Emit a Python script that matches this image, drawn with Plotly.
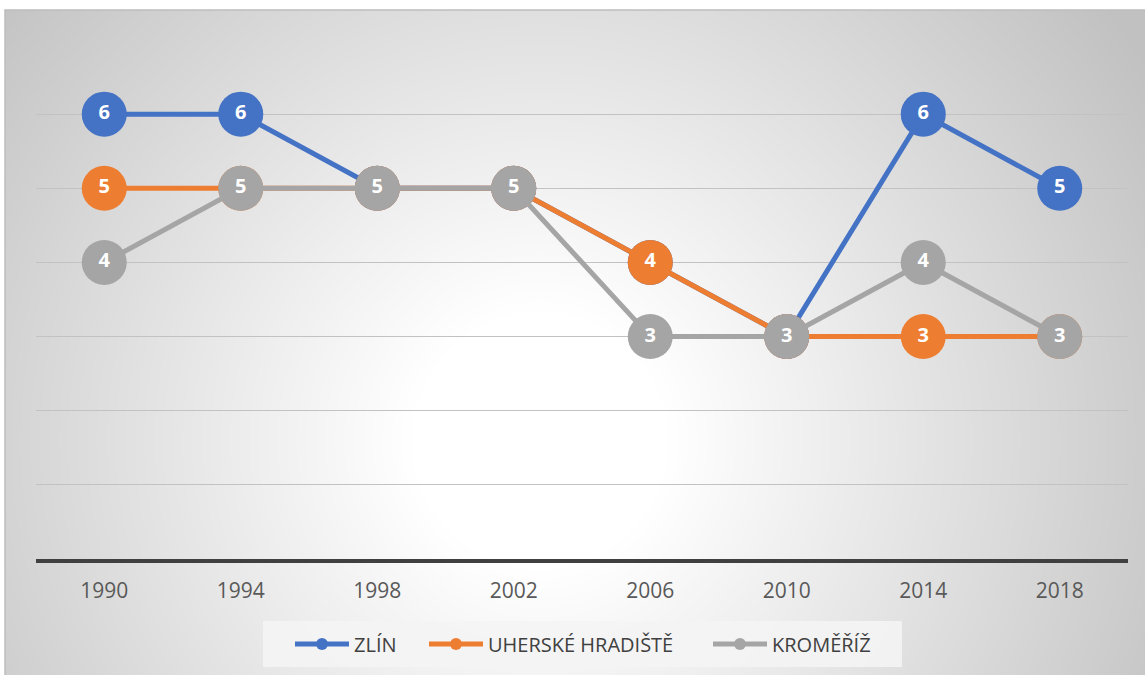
import numpy as np, zlib, struct, base64
import plotly.graph_objects as go

years = ["1990", "1994", "1998", "2002", "2006", "2010", "2014", "2018"]
zlin = [6, 6, 5, 5, 4, 3, 6, 5]
uherske = [5, 5, 5, 5, 4, 3, 3, 3]
kromeriz = [4, 5, 5, 5, 3, 3, 4, 3]
series_names = ["ZLÍN", "UHERSKÉ HRADIŠTĚ", "KROMĚŘÍŽ"]
series_values = [zlin, uherske, kromeriz]
colors = ["#4472C4", "#ED7D31", "#A5A5A5"]

FIG_W, FIG_H = 1145, 675
ML, MT = 5, 10
PW, PH = FIG_W - ML, FIG_H - MT

# radial gradient background (style only)
W, H = PW // 2, PH // 2
yy, xx = np.mgrid[0:H, 0:W]
px = xx * 2 + 1 + ML
py = yy * 2 + 1 + MT
d = np.hypot(px - 540.0, py - 440.0)
t = np.clip((d - 130.0) / (720.0 - 130.0), 0, 1)
v = (255 - 62 * t).astype(np.uint8)
raw = b"".join(b"\x00" + v[r].tobytes() for r in range(H))


def chunk(tag, data):
    return struct.pack(">I", len(data)) + tag + data + struct.pack(">I", zlib.crc32(tag + data) & 0xFFFFFFFF)


png = (b"\x89PNG\r\n\x1a\n" + chunk(b"IHDR", struct.pack(">IIBBBBB", W, H, 8, 0, 0, 0, 0))
       + chunk(b"IDAT", zlib.compress(raw, 9)) + chunk(b"IEND", b""))
bg_src = "data:image/png;base64," + base64.b64encode(png).decode()

fig = go.Figure()
for name, vals, col in zip(series_names, series_values, colors):
    fig.add_trace(go.Scatter(
        x=years, y=vals, mode="lines+markers+text", name=name,
        line=dict(color=col, width=5),
        marker=dict(color=col, size=45, line=dict(width=0)),
        text=[str(vv) for vv in vals], textposition="middle center",
        textfont=dict(family="Open Sans", size=20, color="white", weight="bold"),
        cliponaxis=False, showlegend=False, hoverinfo="skip",
    ))

# legend entries, one small legend per series so each can sit where the reference puts it
legend_ids = ["legend", "legend2", "legend3"]
legend_line_starts = [295, 429, 713]
for name, col, lid in zip(series_names, colors, legend_ids):
    fig.add_trace(go.Scatter(
        x=[None], y=[None], mode="lines+markers", name=name, legend=lid,
        line=dict(color=col, width=5), marker=dict(color=col, size=12),
    ))

legend_common = dict(orientation="h", xanchor="left", y=1 - (644 - MT) / PH, yanchor="middle",
                     bgcolor="rgba(0,0,0,0)", font=dict(size=20, color="#404040"), itemwidth=54)
legends = {}
for lid, xs in zip(legend_ids, legend_line_starts):
    legends[lid] = dict(legend_common, x=(xs - 5 - ML) / PW)

fig.update_layout(
    width=FIG_W, height=FIG_H,
    margin=dict(l=ML, r=0, t=MT, b=0, pad=0),
    paper_bgcolor="white", plot_bgcolor="rgba(0,0,0,0)",
    font=dict(family="Open Sans", color="#595959"),
    images=[dict(source=bg_src, xref="paper", yref="paper", x=0, y=1, sizex=1, sizey=1,
                 xanchor="left", yanchor="top", sizing="stretch", layer="below")],
    shapes=[
        dict(type="rect", xref="paper", yref="paper", x0=(263 - ML) / PW, x1=(902 - ML) / PW,
             y0=1 - (667 - MT) / PH, y1=1 - (621 - MT) / PH,
             fillcolor="rgba(244,244,244,0.9)", line=dict(width=0), layer="below"),
        dict(type="rect", xref="paper", yref="paper", x0=0, x1=1.01, y0=-0.01, y1=1,
             fillcolor="rgba(0,0,0,0)", line=dict(color="#bdbdbd", width=1.5), layer="below"),
    ],
    xaxis=dict(domain=[(36 - ML) / PW, (1128 - ML) / PW], type="category", range=[-0.5, 7.5],
               showgrid=False, showline=True, linecolor="#404040", linewidth=4,
               ticks="", tickfont=dict(size=21, color="#595959"), ticklabelstandoff=10,
               fixedrange=True),
    yaxis=dict(domain=[1 - (559 - MT) / PH, 1 - (40 - MT) / PH], range=[0, 7], dtick=1,
               showgrid=True, gridcolor="#c2c2c2", gridwidth=1.3, zeroline=False,
               showticklabels=False, showline=False, fixedrange=True),
    **legends,
)

fig.write_html("out.html", config={"displayModeBar": False},
               post_script="document.body.style.margin='0';document.body.style.overflow='hidden';")
